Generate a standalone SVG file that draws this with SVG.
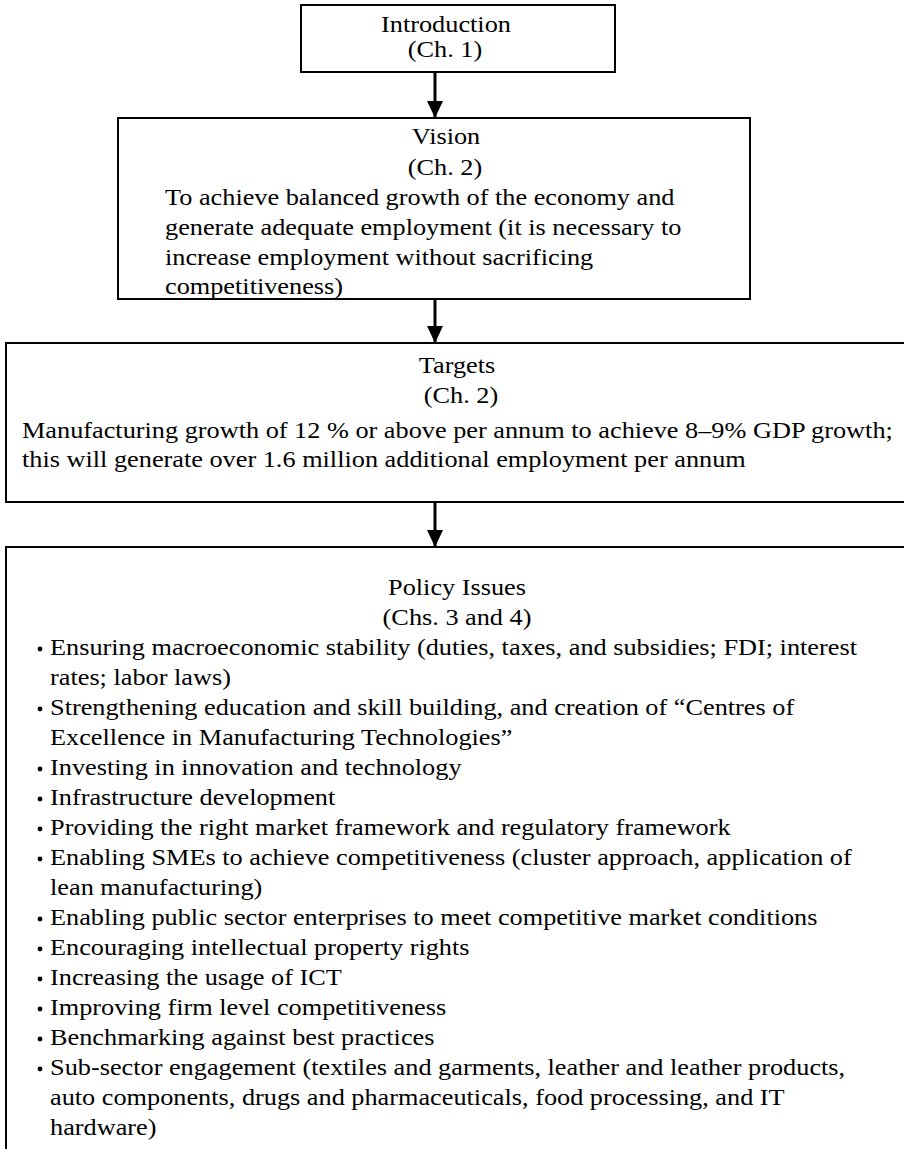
<svg xmlns="http://www.w3.org/2000/svg" width="904" height="1149" viewBox="0 0 904 1149">
  <defs>
    <marker id="arrowhead" markerUnits="userSpaceOnUse" markerWidth="18" markerHeight="16" refX="17" refY="8" orient="auto">
      <path d="M0,0 L17,8 L0,16 Z" fill="#000"/>
    </marker>
  </defs>
  <style>
    .box { fill: #fff; stroke: #000; stroke-width: 2; }
    .t { font-family: "Liberation Serif", "Times New Roman", serif; font-size: 24px; fill: #000; }
    .c { text-anchor: middle; }
    .conn { stroke: #000; stroke-width: 3; fill: none; }
    .dot { fill: #000; }
  </style>
  <rect width="904" height="1149" fill="#fff"/>

  <!-- connectors -->
  <g id="connectors">
    <line class="conn" x1="435" y1="72" x2="435" y2="118" marker-end="url(#arrowhead)"/>
    <line class="conn" x1="435" y1="299" x2="435" y2="343" marker-end="url(#arrowhead)"/>
    <line class="conn" x1="435" y1="502" x2="435" y2="547" marker-end="url(#arrowhead)"/>
  </g>

  <!-- Introduction -->
  <g id="intro">
    <rect class="box" x="301" y="5" width="314" height="67"/>
    <g transform="scale(1.095 1)">
      <text class="t c" x="407.3" y="32">Introduction</text>
      <text class="t c" x="406.4" y="57">(Ch. 1)</text>
    </g>
  </g>

  <!-- Vision -->
  <g id="vision">
    <rect class="box" x="118" y="118" width="632" height="181"/>
    <g transform="scale(1.095 1)">
      <text class="t c" x="407.3" y="144">Vision</text>
      <text class="t c" x="406.4" y="175">(Ch. 2)</text>
      <text class="t" x="150.7" y="205">To achieve balanced growth of the economy and</text>
      <text class="t" x="150.7" y="235">generate adequate employment (it is necessary to</text>
      <text class="t" x="150.7" y="265">increase employment without sacrificing</text>
      <text class="t" x="150.7" y="294">competitiveness)</text>
    </g>
  </g>

  <!-- Targets -->
  <g id="targets">
    <rect class="box" x="6" y="343" width="910" height="159"/>
    <g transform="scale(1.095 1)">
      <text class="t c" x="417.4" y="373">Targets</text>
      <text class="t c" x="421" y="403">(Ch. 2)</text>
      <text class="t" x="20.1" y="438">Manufacturing growth of 12 % or above per annum to achieve 8–9% GDP growth;</text>
      <text class="t" x="20.1" y="467">this will generate over 1.6 million additional employment per annum</text>
    </g>
  </g>

  <!-- Policy Issues -->
  <g id="policy">
    <rect class="box" x="6" y="547" width="910" height="620"/>
    <g transform="scale(1.095 1)">
      <text class="t c" x="417.4" y="595">Policy Issues</text>
      <text class="t c" x="417.4" y="625">(Chs. 3 and 4)</text>
      <text class="t" x="45.7" y="655">Ensuring macroeconomic stability (duties, taxes, and subsidies; FDI; interest</text>
      <text class="t" x="45.7" y="685">rates; labor laws)</text>
      <text class="t" x="45.7" y="715">Strengthening education and skill building, and creation of “Centres of</text>
      <text class="t" x="45.7" y="745">Excellence in Manufacturing Technologies”</text>
      <text class="t" x="45.7" y="775">Investing in innovation and technology</text>
      <text class="t" x="45.7" y="805">Infrastructure development</text>
      <text class="t" x="45.7" y="835">Providing the right market framework and regulatory framework</text>
      <text class="t" x="45.7" y="865">Enabling SMEs to achieve competitiveness (cluster approach, application of</text>
      <text class="t" x="45.7" y="895">lean manufacturing)</text>
      <text class="t" x="45.7" y="925">Enabling public sector enterprises to meet competitive market conditions</text>
      <text class="t" x="45.7" y="955">Encouraging intellectual property rights</text>
      <text class="t" x="45.7" y="985">Increasing the usage of ICT</text>
      <text class="t" x="45.7" y="1015">Improving firm level competitiveness</text>
      <text class="t" x="45.7" y="1045">Benchmarking against best practices</text>
      <text class="t" x="45.7" y="1075">Sub-sector engagement (textiles and garments, leather and leather products,</text>
      <text class="t" x="45.7" y="1105">auto components, drugs and pharmaceuticals, food processing, and IT</text>
      <text class="t" x="45.7" y="1135">hardware)</text>
    </g>
    <circle class="dot" cx="40" cy="649" r="2.4"/>
    <circle class="dot" cx="40" cy="709" r="2.4"/>
    <circle class="dot" cx="40" cy="769" r="2.4"/>
    <circle class="dot" cx="40" cy="799" r="2.4"/>
    <circle class="dot" cx="40" cy="829" r="2.4"/>
    <circle class="dot" cx="40" cy="859" r="2.4"/>
    <circle class="dot" cx="40" cy="919" r="2.4"/>
    <circle class="dot" cx="40" cy="949" r="2.4"/>
    <circle class="dot" cx="40" cy="979" r="2.4"/>
    <circle class="dot" cx="40" cy="1009" r="2.4"/>
    <circle class="dot" cx="40" cy="1039" r="2.4"/>
    <circle class="dot" cx="40" cy="1069" r="2.4"/>
  </g>
</svg>
